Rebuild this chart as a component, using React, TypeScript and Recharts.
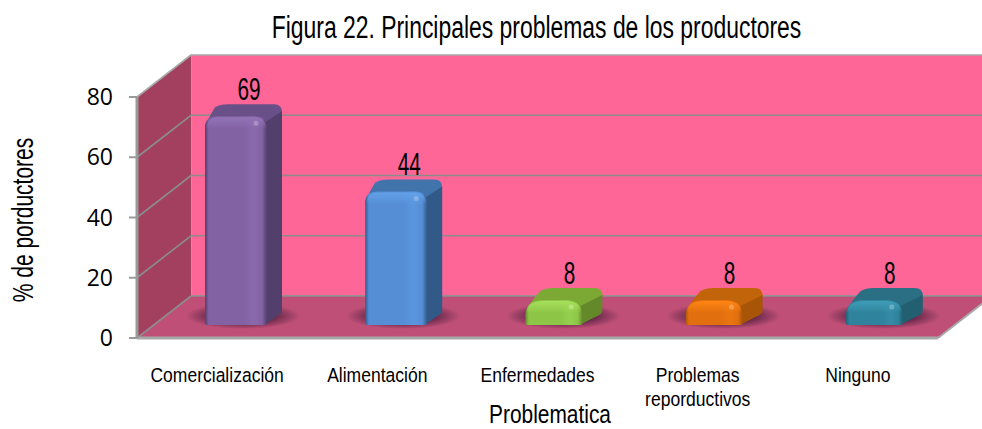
import { BarChart, Bar, XAxis, YAxis, LabelList, usePlotArea } from "recharts";

const categories = ["Comercialización", "Alimentación", "Enfermedades", "Problemas reporductivos", "Ninguno"];
const values = [69, 44, 8, 8, 8];
const yTicks = [0, 20, 40, 60, 80];

const frontColors = ["#8262a3", "#558ed5", "#8dc647", "#e26f0e", "#2f839c"];
const stripeColors = ["#8a69ad", "#5a96df", "#95d04e", "#ea760f", "#358ba5"];
const lightColors = ["#9273b6", "#62a0e8", "#a8e05c", "#ff8514", "#3f9db8"];
const sideColors = ["#533f6b", "#325a88", "#64892a", "#a85508", "#225f70"];
const topColors = ["#6a5089", "#4274ac", "#7ca834", "#c2640a", "#2a6f84"];

const data = categories.map((name, i) => ({ name, value: values[i] }));

// the original uses a very condensed face, so Liberation Sans gets squeezed sideways
const sans = "'Liberation Sans', sans-serif";
const DEPTH_X = 54;
const DEPTH_Y = 42;
const GRID = "#8c8c8c";

function Backdrop() {
  const plot = usePlotArea();
  if (!plot) return null;
  const { x, y, width, height } = plot;
  const bottom = y + height;
  const right = x + width;
  const gridY = (t: number) => bottom - (t / yTicks[yTicks.length - 1]) * height;
  return (
    <g>
      <rect x={x + DEPTH_X} y={y - DEPTH_Y} width={width} height={height} fill="#fd6697" stroke="#a8a8a8" strokeWidth={1.5} />
      <polygon
        points={`${x},${y} ${x + DEPTH_X},${y - DEPTH_Y} ${x + DEPTH_X},${bottom - DEPTH_Y} ${x},${bottom}`}
        fill="#a3405f"
      />
      <polygon
        points={`${x},${bottom} ${x + DEPTH_X},${bottom - DEPTH_Y} ${right + DEPTH_X},${bottom - DEPTH_Y} ${right},${bottom}`}
        fill="#bf4f76"
      />
      {yTicks.slice(1, -1).map((t) => (
        <polyline
          key={t}
          points={`${x},${gridY(t)} ${x + DEPTH_X},${gridY(t) - DEPTH_Y} ${right + DEPTH_X},${gridY(t) - DEPTH_Y}`}
          fill="none"
          stroke={GRID}
          strokeWidth={1.6}
        />
      ))}
      <line x1={x + DEPTH_X} y1={bottom - DEPTH_Y} x2={right + DEPTH_X} y2={bottom - DEPTH_Y} stroke={GRID} strokeWidth={1.6} />
      <line x1={x} y1={bottom} x2={x + DEPTH_X} y2={bottom - DEPTH_Y} stroke={GRID} strokeWidth={1.6} />
      <line x1={x} y1={y} x2={x + DEPTH_X} y2={y - DEPTH_Y} stroke="#a8a8a8" strokeWidth={1.6} />
      <line x1={right} y1={bottom} x2={right + DEPTH_X} y2={bottom - DEPTH_Y} stroke="#a8a8a8" strokeWidth={2} />
    </g>
  );
}

// rounded 3D column, sits a little behind the front edge of the floor
function Column(props: any) {
  const { x: bx, y: by, height: h, index: i } = props;
  const x = bx + 19;
  const y = by - 14;
  const b = by + h - 13;
  const short = h < 40;
  const dx = short ? 20 : 15; // flat columns show a deeper top
  const dy = 12;
  const w = 77 - dx;
  const r = short ? 16 : 11;
  return (
    <g>
      <defs>
        <linearGradient id={`front${i}`} x1="0" x2="1" y1="0" y2="0">
          <stop offset="0" stopColor={sideColors[i]} />
          <stop offset="0.06" stopColor={frontColors[i]} />
          <stop offset="0.62" stopColor={frontColors[i]} />
          <stop offset="0.78" stopColor={stripeColors[i]} />
          <stop offset="0.92" stopColor={frontColors[i]} />
          <stop offset="1" stopColor={sideColors[i]} />
        </linearGradient>
        <linearGradient id={`cap${i}`} x1="0" x2="0" y1="0" y2="1">
          <stop offset="0" stopColor={lightColors[i]} />
          <stop offset="1" stopColor={lightColors[i]} stopOpacity={0} />
        </linearGradient>
        <radialGradient id={`shadow${i}`}>
          <stop offset="0.45" stopColor="#4a1c3c" stopOpacity={0.9} />
          <stop offset="1" stopColor="#4a1c3c" stopOpacity={0} />
        </radialGradient>
      </defs>
      <ellipse cx={x + 38} cy={b - 9} rx={57} ry={13} fill={`url(#shadow${i})`} />
      <path
        d={`M${x},${y + r} Q${x + 2},${y + 4} ${x + dx - 5},${y - dy + 3} Q${x + dx},${y - dy} ${x + dx + 8},${y - dy} L${x + w + dx - 8},${y - dy} Q${x + w + dx},${y - dy} ${x + w + dx},${y - dy + 8} L${x + w},${y + r} Z`}
        fill={topColors[i]}
      />
      <path
        d={`M${x + w - 2},${y + 6} L${x + w + dx},${y - dy + 7} L${x + w + dx},${b - 15} Q${x + w + dx},${b - 12} ${x + w + dx - 3},${b - 10} L${x + w - 3},${b} Z`}
        fill={sideColors[i]}
      />
      <path
        d={`M${x},${b - 2} L${x},${y + r} Q${x},${y} ${x + r + 2},${y} L${x + w - r - 2},${y} Q${x + w},${y} ${x + w},${y + r} L${x + w},${b - 2} Q${x + w},${b} ${x + w - 2},${b} L${x + 2},${b} Q${x},${b} ${x},${b - 2} Z`}
        fill={`url(#front${i})`}
      />
      <path
        d={`M${x + 1},${y + 13} Q${x + 2},${y + 1} ${x + r + 2},${y + 1} L${x + w - r - 2},${y + 1} Q${x + w - 1},${y + 1} ${x + w - 1},${y + 13} Z`}
        fill={`url(#cap${i})`}
      />
      <circle cx={x + w - 11} cy={y + 7} r={2.5} fill="#ffffff" opacity={0.25} />
    </g>
  );
}

function Squeezed({ x, y, sx, size, angle = 0, children }: any) {
  return (
    <text
      transform={`translate(${x} ${y}) rotate(${angle}) scale(${sx} 1)`}
      textAnchor="middle"
      fontFamily={sans}
      fontSize={size}
      fill="#000"
    >
      {children}
    </text>
  );
}

function ValueLabel(props: any) {
  const { x, y, width, value } = props;
  return (
    <Squeezed x={x + width / 2 + 32} y={y - 30} sx={0.67} size={31}>
      {value}
    </Squeezed>
  );
}

function CategoryTick(props: any) {
  const { x, y, payload } = props;
  // the long label wraps on two lines, like the original
  const lines = payload.value === "Problemas reporductivos" ? ["Problemas", "reporductivos"] : [payload.value];
  return (
    <g>
      {lines.map((line: string, i: number) => (
        <Squeezed key={line} x={x} y={y + i * 24} sx={0.855} size={20.5}>
          {line}
        </Squeezed>
      ))}
    </g>
  );
}

export default function App() {
  return (
    <div style={{ position: "absolute", left: 0, top: 0, width: 982, height: 429, overflow: "hidden", background: "#fff" }}>
      <BarChart width={982} height={429} data={data} margin={{ top: 97, right: 44, bottom: 0, left: 0 }}>
        <Backdrop />
        <XAxis
          dataKey="name"
          interval={0}
          height={91}
          tickLine={false}
          tick={<CategoryTick />}
          tickMargin={38}
          axisLine={{ stroke: "#a8a8a8", strokeWidth: 3 }}
        />
        <YAxis
          width={137}
          domain={[0, 80]}
          ticks={yTicks}
          tickSize={8}
          tickMargin={16}
          tick={{ fontFamily: "'Open Sans', sans-serif", fontSize: 23, fill: "#000" }}
          axisLine={{ stroke: "#999", strokeWidth: 3 }}
          tickLine={{ stroke: "#999", strokeWidth: 2 }}
        />
        <Bar dataKey="value" barSize={62} shape={<Column />} isAnimationActive={false}>
          <LabelList dataKey="value" content={<ValueLabel />} />
        </Bar>
        <Squeezed x={536.5} y={38} sx={0.739} size={31}>
          Figura 22. Principales problemas de los productores
        </Squeezed>
        <Squeezed x={550} y={423} sx={0.804} size={26}>
          Problematica
        </Squeezed>
        <Squeezed x={33} y={220} angle={-90} sx={0.7} size={30}>
          % de porductores
        </Squeezed>
      </BarChart>
    </div>
  );
}
